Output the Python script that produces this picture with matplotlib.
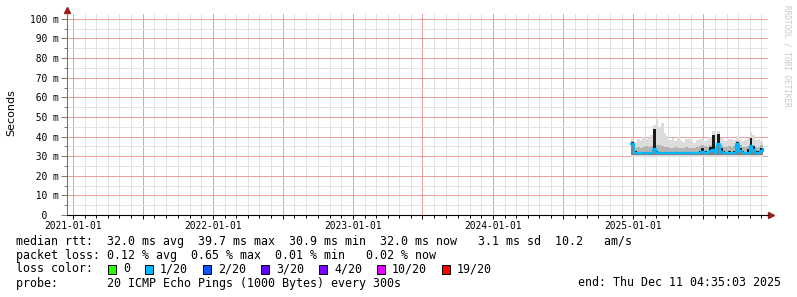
import datetime as dt
import matplotlib
matplotlib.use("Agg")
import matplotlib.pyplot as plt
import matplotlib.dates as mdates
from matplotlib.ticker import FixedLocator, FuncFormatter
from matplotlib.patches import Rectangle

W, H = 797, 297

# weekly samples, late Dec 2024 .. Dec 2025
start = dt.datetime(2024, 12, 27)
weeks = [start + dt.timedelta(days=7 * i) for i in range(50)]

# rtt in ms
rtt_median = [36.0, 31.8, 31.5, 31.4, 31.6, 31.5, 31.4, 31.6, 33.5, 31.8,
              31.5, 31.4, 31.6, 31.5, 31.4, 31.5, 31.6, 31.5, 31.4, 31.5,
              31.6, 31.5, 31.4, 31.5, 31.6, 31.8, 32.2, 31.7, 31.5, 32.4,
              33.0, 31.8, 36.0, 32.3, 31.6, 31.5, 31.7, 31.5, 31.8, 36.2,
              32.4, 31.6, 31.5, 31.8, 35.0, 33.0, 31.7, 31.6, 32.4, 33.5]
rtt_dark = [37.0, 32.4, 32.2, 32.1, 32.3, 32.2, 32.1, 32.3, 44.0, 32.6,
            32.2, 32.1, 32.3, 32.1, 32.2, 32.1, 32.3, 32.2, 32.1, 32.2,
            32.3, 32.1, 32.2, 32.1, 32.3, 32.8, 34.0, 32.5, 32.3, 34.5,
            41.0, 33.0, 41.5, 34.0, 32.4, 32.3, 32.5, 32.3, 32.8, 37.0,
            34.0, 32.5, 32.3, 33.5, 39.5, 35.0, 32.5, 32.4, 34.0, 34.5]
rtt_mid = [37.5, 34.0, 34.5, 34.2, 34.8, 35.0, 34.6, 35.2, 36.0, 35.5,
           35.8, 35.0, 34.6, 34.8, 34.2, 34.0, 34.5, 34.3, 34.0, 34.4,
           34.6, 34.2, 34.0, 34.3, 34.5, 35.0, 35.5, 35.0, 34.6, 35.8,
           36.0, 35.2, 37.0, 35.5, 34.8, 34.6, 35.0, 34.8, 35.2, 37.5,
           35.6, 34.8, 34.6, 35.0, 36.5, 35.8, 34.8, 34.6, 35.5, 35.8]
rtt_max = [38.5, 37.0, 39.0, 38.0, 40.0, 38.5, 39.5, 41.0, 46.0, 49.0,
           45.0, 47.0, 42.0, 40.5, 38.0, 39.5, 37.5, 40.0, 38.0, 37.0,
           39.0, 38.5, 37.5, 36.5, 38.0, 38.5, 39.0, 37.5, 38.5, 40.0,
           43.0, 41.0, 43.0, 39.5, 38.0, 37.5, 38.5, 39.0, 38.0, 40.5,
           39.0, 37.5, 38.0, 39.5, 42.5, 41.0, 38.0, 38.5, 37.5, 38.0]
rtt_min = [29.8, 29.6, 29.5, 29.6, 29.5, 29.6, 29.5, 29.4, 29.6, 29.5,
           29.6, 29.5, 29.4, 29.5, 29.6, 29.5, 29.4, 29.5, 29.6, 29.5,
           29.4, 29.5, 29.6, 29.5, 29.4, 29.5, 29.6, 29.5, 29.4, 29.5,
           29.6, 29.5, 29.8, 29.5, 29.4, 29.5, 29.6, 29.5, 29.4, 29.8,
           29.6, 29.5, 29.4, 29.5, 29.8, 29.6, 29.5, 29.4, 29.6, 29.8]

loss_labels = ["0", "1/20", "2/20", "3/20", "4/20", "10/20", "19/20"]
loss_colors = ["#26ff00", "#00b8ff", "#0059ff", "#5e00ff", "#7e00ff",
               "#dd00ff", "#ff0000"]

stat_lines = [
    "median rtt:  32.0 ms avg  39.7 ms max  30.9 ms min  32.0 ms now   3.1 ms sd  10.2   am/s",
    "packet loss: 0.12 % avg  0.65 % max  0.01 % min   0.02 % now",
]
probe_line = "probe:       20 ICMP Echo Pings (1000 Bytes) every 300s"
end_line = "end: Thu Dec 11 04:35:03 2025"

mono = "DejaVu Sans Mono"
fig = plt.figure(figsize=(W / 100, H / 100), dpi=100)
fig.patch.set_facecolor("white")

# plot area: x 67..768, y 13..215 px
ax = fig.add_axes([67 / W, 1 - 215 / H, 701 / W, 202 / H])
ax.set_xlim(dt.datetime(2020, 12, 16), dt.datetime(2025, 12, 18))
ax.set_ylim(0, 103)

# smoke
ax.fill_between(weeks, rtt_min, rtt_max, step="post", color="#dcdcdc", lw=0)
ax.fill_between(weeks, 30.4, rtt_mid, step="post", color="#b4b4b4", lw=0)
ax.fill_between(weeks, 30.6, rtt_median, step="post", color="#808080", lw=0)
ax.fill_between(weeks, rtt_median, rtt_dark, step="post", color="#1a1a1a", lw=0)
ax.step(weeks, rtt_median, where="post", color="#00b8ff", lw=1.6)

# grid
ax.yaxis.set_major_locator(FixedLocator(range(0, 101, 10)))
ax.yaxis.set_minor_locator(FixedLocator(range(5, 101, 10)))
ax.yaxis.set_major_formatter(FuncFormatter(
    lambda v, p: "  0  " if v == 0 else "%3d m" % v))
ax.xaxis.set_major_locator(mdates.MonthLocator(bymonth=[1, 7]))
ax.xaxis.set_minor_locator(mdates.MonthLocator(bymonth=[2, 3, 4, 5, 6, 8, 9, 10, 11, 12]))
ax.xaxis.set_major_formatter(FuncFormatter(
    lambda v, p: mdates.num2date(v).strftime("%Y-%m-%d")
    if mdates.num2date(v).month == 1 else ""))

ax.grid(which="minor", color="#e2e2e2", lw=0.72, ls=(0, (1, 1)),
        antialiased=False)
ax.grid(which="major", color="#eba0a0", lw=0.72, ls=(0, (1, 1)),
        antialiased=False)
ax.set_axisbelow(True)

ax.tick_params(axis="y", which="major", length=4, width=0.7, pad=2,
               labelsize=6.9, color="#777777")
ax.tick_params(axis="y", which="minor", length=2, width=0.7, color="#777777")
ax.tick_params(axis="x", which="major", length=3, width=0.7, pad=1.5,
               labelsize=6.9)
ax.tick_params(axis="x", which="minor", length=2, width=0.7)
for lab in ax.get_xticklabels() + ax.get_yticklabels():
    lab.set_family(mono)

for s in ["top", "right"]:
    ax.spines[s].set_visible(False)
ax.spines["left"].set_color("#777777")
ax.spines["left"].set_linewidth(0.8)
ax.spines["bottom"].set_color("black")
ax.spines["bottom"].set_linewidth(0.8)

# axis arrows
arrow_c = "#9c1c1c"
ax.plot([67 / W], [1 - 10 / H], marker="^", ms=4, color=arrow_c,
        transform=fig.transFigure, clip_on=False)
ax.plot([771 / W], [1 - 215 / H], marker=">", ms=4, color=arrow_c,
        transform=fig.transFigure, clip_on=False)

fig.text(11 / W, 1 - 113 / H, "Seconds", rotation=90, ha="center",
         va="center", fontsize=8, family="DejaVu Sans")
fig.text(787 / W, 1 - 5 / H, "RRDTOOL / TOBI OETIKER", rotation=270,
         ha="center", va="top", fontsize=5.6, family=mono, color="#c8c8c8")

# legend / stats
fs = 8.4
for i, line in enumerate(stat_lines):
    fig.text(16 / W, 1 - (241 + 14 * i) / H, line, ha="left", va="center",
             fontsize=fs, family=mono)

fig.text(16 / W, 1 - 269 / H, "loss color:", ha="left", va="center",
         fontsize=fs, family=mono)
x = 108
for lab, col in zip(loss_labels, loss_colors):
    fig.add_artist(Rectangle((x / W, 1 - 273.5 / H), 8 / W, 9 / H,
                             transform=fig.transFigure, facecolor=col,
                             edgecolor="black", lw=0.7))
    fig.text((x + 15) / W, 1 - 269 / H, lab, ha="left", va="center",
             fontsize=fs, family=mono)
    x += 30 + 7 * len(lab)

fig.text(16 / W, 1 - 283 / H, probe_line, ha="left", va="center",
         fontsize=fs, family=mono)
fig.text(781 / W, 1 - 283 / H, end_line, ha="right", va="center",
         fontsize=fs, family=mono)

fig.savefig("out.png", dpi=100)
